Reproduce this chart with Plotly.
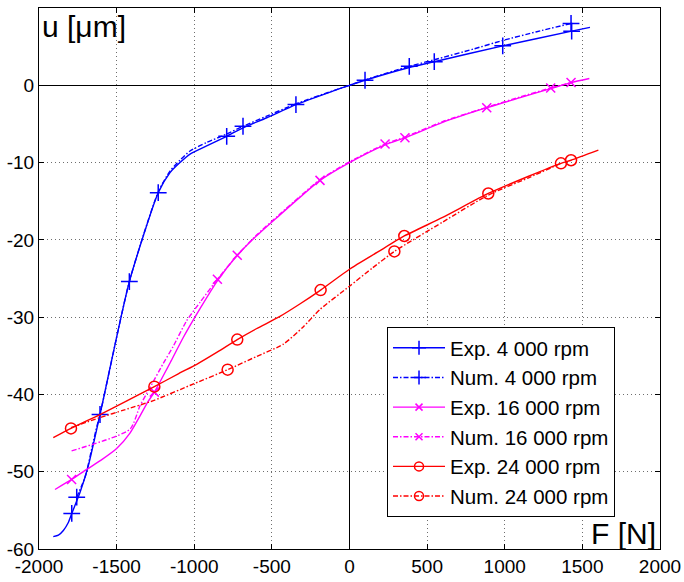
import plotly.graph_objects as go

# ---------------- data ----------------
# Exp. 4 000 rpm
exp4_F = [-1908, -1875, -1843, -1812, -1789, -1736, -1682, -1607, -1418, -1232, -1156, -1092,
          -1027, -920, -791, -686, -533, -345, -104, 0, 100, 385, 546, 987, 1431, 1549]
exp4_u = [-58.4, -58.2, -57.6, -56.6, -55.4, -52.7, -49.2, -42.6, -25.4, -13.9, -11.3, -10.0,
          -8.9, -7.85, -6.6, -5.5, -4.2, -2.5, -0.73, 0.0, 0.65, 2.3, 3.05, 5.1, 7.0, 7.5]
exp4_mF = [-1789, -1607, -1418, -1232, -791, -345, 100, 546, 987, 1431]
exp4_mu = [-55.4, -42.6, -25.4, -13.9, -6.6, -2.5, 0.65, 3.05, 5.1, 7.0]

# Num. 4 000 rpm
num4_F = [-1757, -1700, -1660, -1628, -1607, -1418, -1232, -1156, -1092, -1027, -920, -791,
          -686, -533, -345, -104, 0, 100, 385, 546, 800, 987, 1200, 1427]
num4_u = [-53.3, -50.5, -47.0, -44.2, -42.6, -25.4, -13.8, -11.1, -9.7, -8.5, -7.4, -6.3,
          -5.3, -4.0, -2.4, -0.7, 0.0, 0.7, 2.45, 3.3, 4.7, 5.8, 6.9, 8.0]
num4_mF = [-1757, -686, 385, 1427]
num4_mu = [-53.3, -5.3, 2.45, 8.0]

# Exp. 16 000 rpm
exp16_F = [-1897, -1790, -1693, -1600, -1500, -1414, -1350, -1300, -1257, -1150, -1070, -960,
           -851, -723, -600, -450, -320, -190, 0, 229, 357, 600, 884, 1100, 1296, 1427, 1545]
exp16_u = [-52.3, -51.0, -49.7, -48.5, -47.0, -45.0, -42.8, -41.0, -39.7, -35.7, -32.6, -28.8,
           -25.3, -22.0, -19.5, -16.8, -14.5, -12.3, -10.0, -7.7, -6.8, -4.8, -2.9, -1.6,
           -0.43, 0.35, 0.87]
exp16_mF = [-1790, -1257, -723, -190, 357, 884, 1427]
exp16_mu = [-51.0, -39.7, -22.0, -12.3, -6.8, -2.9, 0.35]

# Num. 16 000 rpm
num16_F = [-1790, -1414, -1350, -1290, -1200, -1136, -1050, -960, -851, -723, -600, -450, -320,
           -190, 0, 229, 357, 600, 884, 1100, 1296, 1427]
num16_u = [-47.3, -44.5, -41.5, -39.3, -36.0, -33.8, -30.5, -28.0, -25.1, -22.0, -19.4, -16.7,
           -14.4, -12.2, -9.9, -7.6, -6.7, -4.7, -2.85, -1.5, -0.35, 0.35]
num16_mF = [-851, 229, 1296]
num16_mu = [-25.1, -7.6, -0.35]

# Exp. 24 000 rpm
exp24_F = [-1908, -1794, -1607, -1450, -1257, -1100, -984, -850, -723, -600, -448, -320, -186,
           0, 180, 353, 600, 894, 1150, 1362, 1427, 1603]
exp24_u = [-45.6, -44.4, -42.6, -41.0, -39.0, -37.3, -36.1, -34.5, -32.9, -31.5, -29.9, -28.3,
           -26.5, -23.8, -21.6, -19.5, -17.1, -14.0, -11.8, -10.1, -9.7, -8.4]
exp24_mF = [-1794, -1257, -723, -186, 353, 894, 1427]
exp24_mu = [-44.4, -39.0, -32.9, -26.5, -19.5, -14.0, -9.7]

# Num. 24 000 rpm
num24_F = [-1794, -1607, -1450, -1264, -1000, -785, -600, -426, -300, -190, 0, 150, 289, 600,
           894, 1150, 1362]
num24_u = [-44.3, -43.0, -42.0, -40.8, -38.6, -36.8, -35.1, -33.5, -31.3, -29.0, -26.0, -23.6,
           -21.5, -17.7, -14.2, -12.0, -10.1]
num24_mF = [-785, 289, 1362]
num24_mu = [-36.8, -21.5, -10.1]

series_names = ["Exp. 4 000 rpm", "Num. 4 000 rpm", "Exp. 16 000 rpm",
                "Num. 16 000 rpm", "Exp. 24 000 rpm", "Num. 24 000 rpm"]

x_ticks = [-2000, -1500, -1000, -500, 0, 500, 1000, 1500, 2000]
y_ticks = [-60, -50, -40, -30, -20, -10, 0, 10]

# ---------------- styling ----------------
DASHDOT = "5px,2px,1.5px,2px"
styles = [
    dict(color="#0000FF", dash="solid", symbol="cross-thin", size=12),
    dict(color="#0000FF", dash=DASHDOT, symbol="cross-thin", size=12),
    dict(color="#FF00FF", dash="solid", symbol="x-thin", size=9),
    dict(color="#FF00FF", dash=DASHDOT, symbol="x-thin", size=9),
    dict(color="#FF0000", dash="solid", symbol="circle-open", size=11),
    dict(color="#FF0000", dash=DASHDOT, symbol="circle-open", size=11),
]
lines = [(exp4_F, exp4_u, exp4_mF, exp4_mu), (num4_F, num4_u, num4_mF, num4_mu),
         (exp16_F, exp16_u, exp16_mF, exp16_mu), (num16_F, num16_u, num16_mF, num16_mu),
         (exp24_F, exp24_u, exp24_mF, exp24_mu), (num24_F, num24_u, num24_mF, num24_mu)]

fig = go.Figure()
for name, st, (lf, lu, mf, mu) in zip(series_names, styles, lines):
    fig.add_trace(go.Scatter(x=lf, y=lu, mode="lines", showlegend=False,
                             line=dict(color=st["color"], width=1.4, dash=st["dash"],
                                       shape="spline", smoothing=0.6),
                             hoverinfo="skip"))
    fig.add_trace(go.Scatter(x=mf, y=mu, mode="markers", showlegend=False,
                             marker=dict(symbol=st["symbol"], size=st["size"], color=st["color"],
                                         line=dict(color=st["color"], width=1.5))))
for name, st in zip(series_names, styles):
    fig.add_trace(go.Scatter(x=[None], y=[None], mode="lines+markers", name=name,
                             line=dict(color=st["color"], width=1.4, dash=st["dash"]),
                             marker=dict(symbol=st["symbol"], size=st["size"] - 2, color=st["color"],
                                         line=dict(color=st["color"], width=1.5))))

FONT = "Liberation Sans, Arial, Helvetica, sans-serif"
axis_common = dict(
    showline=True, linecolor="black", linewidth=1, mirror="ticks",
    ticks="inside", ticklen=5, tickcolor="black", tickwidth=1,
    showgrid=True, gridcolor="#6e6e6e", gridwidth=1, griddash="1px,3px",
    zeroline=True, zerolinecolor="black", zerolinewidth=1,
    tickfont=dict(family=FONT, size=19, color="black"),
    automargin=False,
)
fig.update_xaxes(range=[-2000, 2000], tickvals=x_ticks, ticktext=[str(v) for v in x_ticks],
                 ticklabelstandoff=0, **axis_common)
fig.update_yaxes(range=[-60, 10], tickvals=y_ticks, ticktext=[str(v) for v in y_ticks],
                 **axis_common)

fig.add_annotation(text="u [μm]", x=0, y=1, xref="paper", yref="paper", xanchor="left",
                   yanchor="top", xshift=1, yshift=0, showarrow=False,
                   font=dict(family=FONT, size=30, color="black"))
fig.add_annotation(text="F [N]", x=1, y=0, xref="paper", yref="paper", xanchor="right",
                   yanchor="bottom", xshift=-2, yshift=-3, showarrow=False,
                   font=dict(family=FONT, size=30, color="black"))

fig.update_layout(
    width=684, height=582,
    margin=dict(l=39, r=24, t=8, b=33),
    paper_bgcolor="white", plot_bgcolor="white",
    font=dict(family=FONT, color="black"),
    legend=dict(x=0.5604, y=0.4104, xanchor="left", yanchor="top",
                bgcolor="white", bordercolor="black", borderwidth=1,
                font=dict(family=FONT, size=20.5, color="black"),
                itemwidth=52, tracegroupgap=0, itemsizing="trace"),
    showlegend=True,
)

fig.write_html("out.html", config={"displayModeBar": False},
               post_script="document.body.style.margin='0px';")
